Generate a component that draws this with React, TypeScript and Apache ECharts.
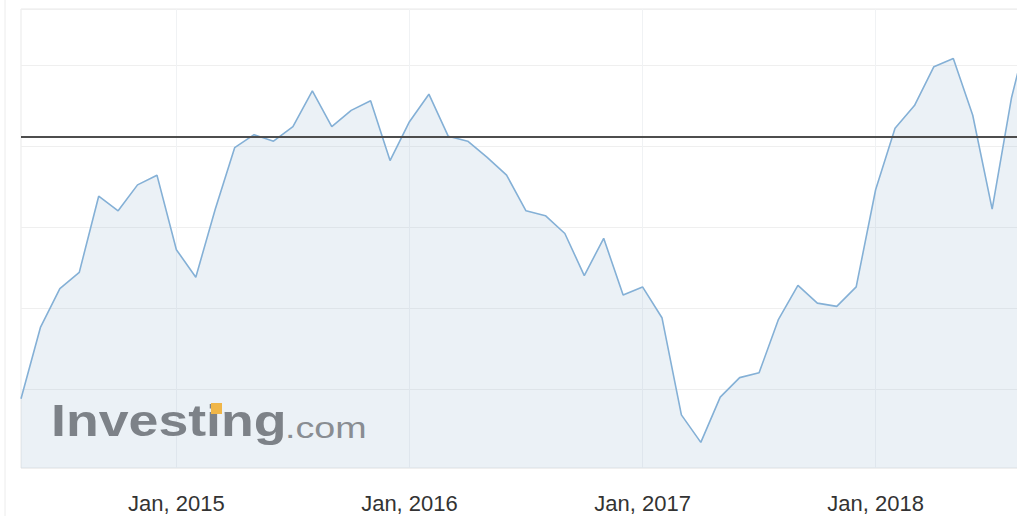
import React, { useEffect, useRef } from "react";
import * as echarts from "echarts";

const months = [
  "May 2014", "Jun 2014", "Jul 2014", "Aug 2014", "Sep 2014", "Oct 2014", "Nov 2014", "Dec 2014",
  "Jan 2015", "Feb 2015", "Mar 2015", "Apr 2015", "May 2015", "Jun 2015", "Jul 2015", "Aug 2015", "Sep 2015", "Oct 2015", "Nov 2015", "Dec 2015",
  "Jan 2016", "Feb 2016", "Mar 2016", "Apr 2016", "May 2016", "Jun 2016", "Jul 2016", "Aug 2016", "Sep 2016", "Oct 2016", "Nov 2016", "Dec 2016",
  "Jan 2017", "Feb 2017", "Mar 2017", "Apr 2017", "May 2017", "Jun 2017", "Jul 2017", "Aug 2017", "Sep 2017", "Oct 2017", "Nov 2017", "Dec 2017",
  "Jan 2018", "Feb 2018", "Mar 2018", "Apr 2018", "May 2018", "Jun 2018", "Jul 2018", "Aug 2018", "Sep 2018",
];

const values = [
  44.4, 48.8, 51.2, 52.2, 56.9, 56.0, 57.6, 58.2,
  53.6, 51.9, 56.1, 59.9, 60.7, 60.3, 61.2, 63.4, 61.2, 62.2, 62.8, 59.1,
  61.5, 63.2, 60.6, 60.3, 59.3, 58.2, 56.0, 55.7, 54.6, 52.0, 54.3, 50.8,
  51.3, 49.4, 43.4, 41.7, 44.5, 45.7, 46.0, 49.3, 51.4, 50.3, 50.1, 51.3,
  57.3, 61.1, 62.5, 64.9, 65.4, 61.9, 56.1, 63.0, 67.8,
];

const tickLabels: Record<string, string> = {
  "Jan 2015": "Jan, 2015",
  "Jan 2016": "Jan, 2016",
  "Jan 2017": "Jan, 2017",
  "Jan 2018": "Jan, 2018",
};

const referenceLevel = 60.55;
const yMin = 40.12;
const yMax = 68.46;

export default function App() {
  const ref = useRef<HTMLDivElement>(null);
  useEffect(() => {
    if (!ref.current) return;
    const chart = echarts.init(ref.current, undefined, { renderer: "svg" });
    chart.setOption({
      animation: false,
      backgroundColor: "#ffffff",
      grid: {
        left: 21,
        top: 9,
        right: 0,
        bottom: 48,
        show: true,
        borderColor: "#e9e9e9",
        borderWidth: 1,
        backgroundColor: "transparent",
      },
      xAxis: {
        type: "category",
        data: months,
        boundaryGap: false,
        axisLine: { show: false },
        axisTick: { show: false },
        axisLabel: {
          interval: (_i: number, v: string) => v in tickLabels,
          formatter: (v: string) => tickLabels[v] || "",
          color: "#333333",
          fontSize: 22,
          fontFamily: "Liberation Sans",
          margin: 24,
        },
        splitLine: {
          show: true,
          interval: (_i: number, v: string) => v in tickLabels,
          lineStyle: { color: "#f0f2f4", width: 1 },
        },
      },
      yAxis: {
        type: "value",
        min: yMin,
        max: yMax,
        splitNumber: 5,
        axisLine: { show: false },
        axisTick: { show: false },
        axisLabel: { show: false },
        splitLine: { lineStyle: { color: "#efefef", width: 1 } },
      },
      series: [
        {
          type: "line",
          data: values,
          symbol: "none",
          lineStyle: { color: "#84b0d6", width: 1.6 },
          areaStyle: { color: "rgba(160,188,214,0.3)" },
          markLine: {
            silent: true,
            symbol: "none",
            label: { show: false },
            lineStyle: { color: "#4d4d4d", width: 2, type: "solid" },
            data: [{ yAxis: referenceLevel }],
          },
          z: 2,
        },
      ],
      graphic: [
        {
          type: "line",
          shape: { x1: 5, y1: 0, x2: 5, y2: 516 },
          style: { stroke: "#ececec", lineWidth: 1 },
          z: 10,
        },
        {
          type: "text",
          x: 51,
          y: 399,
          scaleX: 1.22,
          style: {
            text: "Investing",
            font: 'bold 44px "Liberation Sans"',
            fill: "#7d8288",
            verticalAlign: "top",
          },
          z: 10,
        },
        {
          type: "text",
          x: 285,
          y: 414,
          scaleX: 1.3,
          style: {
            text: ".com",
            font: '29px "Liberation Sans"',
            fill: "#898d92",
            verticalAlign: "top",
          },
          z: 10,
        },
        {
          type: "rect",
          shape: { x: 211, y: 403, width: 11, height: 11 },
          style: { fill: "#f0b648" },
          z: 11,
        },
      ],
    });
    return () => chart.dispose();
  }, []);
  return (
    <div
      style={{ position: "absolute", left: 0, top: 0, width: 1017, height: 516, overflow: "hidden" }}
    >
      <div ref={ref} style={{ width: 1031, height: 516 }} />
    </div>
  );
}
